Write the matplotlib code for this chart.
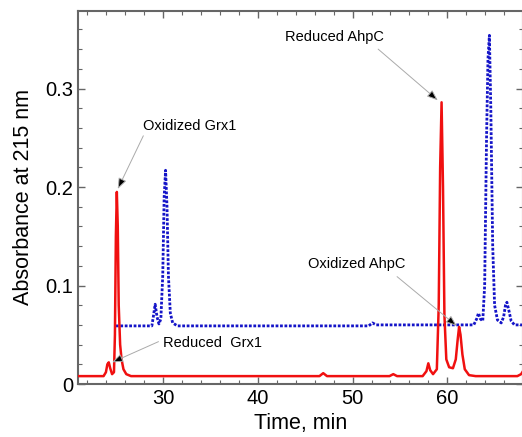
import matplotlib
matplotlib.use("Agg")
import matplotlib.pyplot as plt
from matplotlib.ticker import MultipleLocator

plt.rcParams['font.family'] = ['Liberation Sans', 'DejaVu Sans']

# Red (solid) trace: time (min), absorbance
red_t = [21.0, 23.7, 23.95, 24.1, 24.25, 24.4, 24.6, 24.8, 24.9, 25.0, 25.1, 25.2, 25.3, 25.45, 25.6, 25.8, 26.1, 26.6,
         28.0, 35.0, 46.5, 46.9, 47.3, 50.0, 53.9, 54.3, 54.7, 57.4, 57.8, 58.0, 58.2, 58.5, 58.9, 59.1, 59.25,
         59.4, 59.55, 59.7, 59.9, 60.2, 60.6, 60.9, 61.1, 61.25, 61.4, 61.6, 61.85, 62.3, 63.0, 67.4, 67.8, 68.0]
red_a = [0.008, 0.008, 0.012, 0.020, 0.022, 0.016, 0.010, 0.012, 0.050, 0.150, 0.195, 0.160, 0.080, 0.040, 0.025, 0.015, 0.010, 0.008,
         0.008, 0.008, 0.008, 0.011, 0.008, 0.008, 0.008, 0.010, 0.008, 0.008, 0.013, 0.021, 0.014, 0.010, 0.015, 0.080, 0.220,
         0.286, 0.200, 0.070, 0.025, 0.017, 0.016, 0.025, 0.045, 0.058, 0.050, 0.030, 0.015, 0.009, 0.008, 0.008, 0.010, 0.013]

# Blue (dotted) trace
blue_t = [25.0, 28.8, 28.95, 29.15, 29.35, 29.55, 29.75, 29.95, 30.1, 30.25, 30.4, 30.55, 30.75, 31.0, 31.5,
          51.7, 52.1, 52.5, 62.8, 63.1, 63.3, 63.5, 63.75, 63.95, 64.15, 64.3, 64.45, 64.6, 64.8, 65.0, 65.3,
          65.7, 65.95, 66.15, 66.3, 66.5, 66.75, 67.1, 68.0]
blue_a = [0.059, 0.059, 0.068, 0.081, 0.068, 0.061, 0.066, 0.110, 0.190, 0.217, 0.180, 0.110, 0.072, 0.062, 0.059,
          0.059, 0.062, 0.060, 0.060, 0.066, 0.072, 0.066, 0.064, 0.100, 0.250, 0.330, 0.354, 0.280, 0.140, 0.080, 0.065,
          0.062, 0.068, 0.080, 0.083, 0.075, 0.064, 0.060, 0.060]

# Annotations: label, text position, arrow start, arrow tip (data coords)
ann_labels = ["Oxidized Grx1", "Reduced AhpC", "Oxidized AhpC", "Reduced  Grx1"]
ann_text_xy = [(32.8, 0.262), (48.1, 0.352), (50.4, 0.122), (30.0, 0.042)]
ann_ha = ["center", "center", "center", "left"]
ann_start = [(27.9, 0.252), (52.7, 0.340), (54.7, 0.109), (29.5, 0.043)]
ann_tip = [(25.2, 0.198), (59.0, 0.288), (61.0, 0.059), (24.6, 0.022)]

yticks = [0, 0.1, 0.2, 0.3]
ytick_labels = ["0", "0.1", "0.2", "0.3"]
xticks = [30, 40, 50, 60]

fig = plt.figure(figsize=(5.22, 4.37), dpi=100)
ax = fig.add_axes([78/522, 53/437, 445/522, 373.3/437])

ax.plot(blue_t, blue_a, color='#1414c8', lw=2.0, linestyle=(0, (1, 0.6)), zorder=2)
ax.plot(red_t, red_a, color='#f01010', lw=1.8, zorder=3)

ax.set_xlim(21, 68)
ax.set_ylim(0, 0.379)
ax.set_xticks(xticks)
ax.set_yticks(yticks)
ax.set_yticklabels(ytick_labels)
ax.xaxis.set_minor_locator(MultipleLocator(2))
ax.yaxis.set_minor_locator(MultipleLocator(0.02))
ax.tick_params(which='both', direction='in', top=True, right=True, color='#666666', labelsize=14.5)
ax.tick_params(which='major', length=5, width=1)
ax.tick_params(which='minor', length=3, width=0.8)
for s in ax.spines.values():
    s.set_color('#666666')
    s.set_linewidth(1.5)

ax.set_xlabel("Time, min", fontsize=15.5, labelpad=4)
ax.set_ylabel("Absorbance at 215 nm", fontsize=15.5, labelpad=8)

for lab, txy, ha, st, tip in zip(ann_labels, ann_text_xy, ann_ha, ann_start, ann_tip):
    ax.text(txy[0], txy[1], lab, fontsize=10.5, ha=ha, va='center')
    ax.annotate('', xy=tip, xytext=st,
                arrowprops=dict(arrowstyle='-|>,head_length=0.65,head_width=0.25',
                                fc='black', ec='#aaaaaa', lw=0.7, shrinkA=0, shrinkB=0))

fig.savefig("out.png", dpi=100)
